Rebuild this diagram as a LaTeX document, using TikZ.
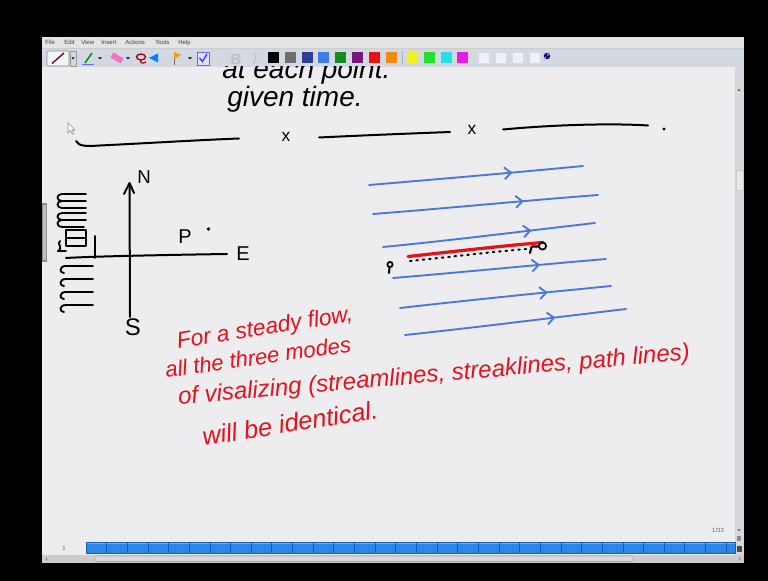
\documentclass[tikz,border=0pt]{standalone}
\usepackage{fontspec}
\setmainfont{Liberation Sans}
\usepackage{graphicx}
\usetikzlibrary{arrows.meta,decorations.markings}
\definecolor{canvasbg}{HTML}{EDEDF0}
\definecolor{chrome}{HTML}{D6D8DE}
\definecolor{menubar}{HTML}{E3E4E8}
\definecolor{toolbarbg}{HTML}{D3D9E3}
\definecolor{streamblue}{HTML}{4A78DA}
\definecolor{inkred}{HTML}{E3121B}
\definecolor{pageblue}{HTML}{2C87E8}
\definecolor{pagedark}{HTML}{1C5DAA}
\definecolor{swgray}{HTML}{6E6E6E}
\definecolor{swdblue}{HTML}{2E3E96}
\definecolor{swblue}{HTML}{3C7CEB}
\definecolor{swgreen}{HTML}{158A1E}
\definecolor{swpurple}{HTML}{7A1680}
\definecolor{swred}{HTML}{EE1111}
\definecolor{sworange}{HTML}{F08A12}
\definecolor{swyellow}{HTML}{F2F21A}
\definecolor{swlime}{HTML}{22E02A}
\definecolor{swcyan}{HTML}{22E2E8}
\definecolor{swmagenta}{HTML}{E81CE8}
\begin{document}
\begin{tikzpicture}[x=0.75pt,y=-0.75pt,
  ink/.style={line width=1.5pt,line cap=round,line join=round,draw=black},
  stream/.style={line width=1.4pt,line cap=round,draw=streamblue,postaction={decorate},
    decoration={markings,mark=at position #1 with {\arrow{Straight Barb[length=5pt,width=9pt]}}}},
  redtxt/.style={text=inkred,inner sep=0pt},
  blacktxt/.style={text=black,inner sep=0pt},
  menutxt/.style={font=\fontsize{4.5}{5}\selectfont,text=black!75,inner sep=0pt,anchor=west},
  swatch/.style={draw=black!25,line width=0.3pt}]
% ---- frame ----
\fill[black] (0,0) rectangle (768,581);
\useasboundingbox (0,0) rectangle (768,581);
\fill[chrome] (42,37) rectangle (744,563);
\fill[menubar] (42,37) rectangle (744,48);
\fill[toolbarbg] (42,48) rectangle (744,67);
\draw[black!20,line width=0.4pt] (42,48) -- (744,48);
\fill[canvasbg] (42,67) rectangle (735,555);
% menu
\foreach \x/\t in {45/File,64/Edit,81/View,101/Insert,125/Actions,155/Tools,178/Help}
  \node[menutxt] (menu-\t) at (\x,42.5) {\t};
% toolbar icons
\draw[black!45,fill=white!70!toolbarbg,rounded corners=1pt] (47,51) rectangle (69,66);
\draw[line width=1pt,red!45!black] (52,63.5) -- (64,53);
\draw[black!40] (70,51) rectangle (76,66);
\fill[black] (71.5,57.5) -- (74.5,57.5) -- (73,59.5) -- cycle;
\draw[line width=1.1pt,green!55!black] (85,63) -- (92,53);
\draw[line width=0.9pt,blue!60] (82,64.5) -- (94,64.5);
\fill[black] (98,57.5) -- (102,57.5) -- (100,59.5) -- cycle;
\fill[magenta!55!white,rotate around={-30:(117,58)}] (111,55) rectangle (123,61);
\fill[black] (126,57.5) -- (130,57.5) -- (128,59.5) -- cycle;
\draw[red!65!black,line width=1pt] (141,57) ellipse (4.5 and 3);
\draw[red!65!black,line width=0.9pt] (141,60) .. controls (139,63) and (143,64) .. (146,62);
\fill[blue!50!cyan] (149,58) -- (158,53.5) -- (158,62.5) -- cycle;
\draw[black!60,line width=0.7pt] (174,52) -- (174,65);
\fill[orange!80!yellow] (174,52) -- (181,55) -- (174,59) -- cycle;
\fill[black] (188,57.5) -- (192,57.5) -- (190,59.5) -- cycle;
\draw[blue!60,fill=blue!12] (197,52) rectangle (209,65);
\draw[blue!80,line width=1pt] (199.5,58) -- (202.5,61.5) -- (207,54);
\node[font=\bfseries\fontsize{11}{12}\selectfont,text=black!25,inner sep=0pt] (bold) at (236,59) {B};
\node[font=\itshape\fontsize{11}{12}\selectfont,text=black!25,inner sep=0pt] (ital) at (255,59) {I};
\foreach \c [count=\i from 0] in {black,swgray,swdblue,swblue,swgreen,swpurple,swred,sworange}
  \fill[\c] ({268+\i*16.8},52) rectangle ++(11,11);
\draw[black!30] (402,51) -- (402,65);
\foreach \c [count=\i from 0] in {swyellow,swlime,swcyan,swmagenta}
  \fill[\c] ({407+\i*16.8},52) rectangle ++(11,11);
\foreach \i in {0,...,3}
  \draw[black!15,fill=white!60!toolbarbg] ({478+\i*17},52) rectangle ++(11,11);
\fill[blue!60!black] (547,56) circle (3.2);
\fill[red!70] (548,54.5) circle (1.6);
\fill[orange] (545.5,57.5) circle (1.2);
% right scrollbar
\fill[chrome] (735,67) rectangle (744,555);
\fill[black!55] (737.3,91) -- (740.7,91) -- (739,88.5) -- cycle;
\draw[black!20,fill=chrome!60!white] (736,170) rectangle (743,190);
\fill[black!55] (737.3,529) -- (740.7,529) -- (739,531.5) -- cycle;
\fill[black!45] (737,536) rectangle (741,541);
\fill[black!70] (736.5,546) rectangle (741.5,552);
% left tab
\fill[black!45] (42,203) rectangle (47,262);
\fill[black!25] (43,205) rectangle (46,260);
% page strip
\fill[pageblue] (86,542) rectangle (735,553.5);
\fill[white!30!pageblue] (86,542) rectangle (735,543.5);
\foreach \k in {1,...,31} \draw[pagedark,line width=0.6pt] ({86+\k*20.65},542) -- ({86+\k*20.65},553.5);
\draw[pagedark,line width=0.6pt] (86,542) rectangle (735,553.5);
\node[font=\fontsize{4.5}{5}\selectfont,text=black!60,inner sep=0pt] (pagenum) at (64,548) {1};
\node[font=\fontsize{4.5}{5}\selectfont,text=black!60,inner sep=0pt] (pagecount) at (718,530) {1/33};
% bottom scrollbar
\fill[black!20] (42,555) rectangle (744,563);
\draw[black!35,fill=white!85!black,rounded corners=1pt] (95,556) rectangle (633,561.5);
\fill[black!50] (47,557.5) -- (47,560.5) -- (45.5,559) -- cycle;
\fill[black!50] (739,557.5) -- (739,560.5) -- (740.5,559) -- cycle;
% ---- handwriting (clipped to canvas) ----
\begin{scope}
\clip (42,67) rectangle (735,541);
\node[blacktxt,anchor=base west,font=\fontsize{21}{24}\selectfont\itshape] (l0) at (222,79) {at each point.};
\node[blacktxt,anchor=base west,font=\fontsize{21}{24}\selectfont\itshape] (l1) at (227,107) {given time.};
\end{scope}
% cursor
\draw[black!45,fill=white,line width=0.4pt] (68,123) -- (68,133) -- (70.5,130.6) -- (72.4,134.2) -- (73.8,133.5) -- (72,130) -- (75,130) -- cycle;
% blank lines with x marks
\draw[ink] (76,141) .. controls (79,146) and (84,146.5) .. (100,145.5) .. controls (150,143) and (200,140) .. (239,138.5);
\node[blacktxt,font=\fontsize{13}{15}\selectfont] (x1) at (286,137) {x};
\draw[ink] (319,137.5) .. controls (360,135.5) and (410,133.5) .. (450,132);
\node[blacktxt,font=\fontsize{13}{15}\selectfont] (x2) at (472,129.5) {x};
\draw[ink] (503,129.5) .. controls (550,125) and (610,123) .. (648,125.5);
\fill[black] (664,129) circle (1.6);
% compass
\draw[ink] (130,317) -- (129.5,184);
\draw[ink] (124,194) -- (129.5,183) -- (134,193);
\node[blacktxt,font=\fontsize{14}{16}\selectfont] (north) at (144,177) {N};
\draw[ink] (66,258) .. controls (90,256.5) and (160,255) .. (227,254);
\node[blacktxt,font=\fontsize{15}{17}\selectfont] (east) at (243,254) {E};
\node[blacktxt,font=\fontsize{18}{20}\selectfont] (south) at (133,327) {S};
\node[blacktxt,font=\fontsize{15}{17}\selectfont] (pnt) at (185,237) {P};
\fill[black] (208.5,229) circle (1.8);
% scribbles at the left
\draw[ink,line width=1.4pt] (86,194) -- (62,194) .. controls (56,194) and (56,201) .. (62,201) -- (86,201)
   (62,201) .. controls (56,201) and (56,208) .. (62,208) -- (86,208);
\draw[ink,line width=1.4pt] (86,213) -- (62,213) .. controls (56,213) and (56,220) .. (62,220) -- (86,220)
   (62,220) .. controls (56,220) and (56,227) .. (62,227) -- (84,227);
\draw[ink,line width=1.4pt] (66,230) rectangle (86,246);
\draw[ink,line width=1.4pt] (66,238) -- (86,238);
\draw[ink,line width=1.4pt] (60,241) .. controls (56,244) and (64,247) .. (58,251) -- (66,251);
\draw[ink,line width=1.4pt] (95,236) -- (95,258);
\foreach \yy in {266,279,292,305}
  \draw[ink,line width=1.4pt] (93,\yy) -- (66,\yy) .. controls (59,\yy) and (59,\yy+7) .. (64,\yy+7);
% streamlines
\draw[stream=0.67] (369,185) .. controls (440,179) and (510,173) .. (583,166);
\draw[stream=0.67] (373,214) .. controls (450,208) and (520,201) .. (598,195);
\draw[stream=0.70] (383,247) .. controls (455,240) and (525,231) .. (595,223);
\draw[stream=0.69] (393,278) .. controls (465,272) and (535,265) .. (606,259);
\draw[stream=0.70] (400,308) .. controls (470,300) and (540,293) .. (611,286);
\draw[stream=0.68] (405,335) .. controls (480,327) and (550,318) .. (626,309);
% red streakline and dotted pathline
\draw[inkred,line width=2.4pt,line cap=round] (408,256.5) .. controls (450,252) and (500,246) .. (543,242.5);
\draw[black,line width=1.5pt,dash pattern=on 1.2pt off 3.6pt,line cap=round] (410,261) .. controls (450,257) and (490,252) .. (527,249);
\draw[black,line width=1.3pt] (390,264.5) circle (2.6);
\draw[black,line width=1.5pt,line cap=round] (389.5,267) -- (389,273);
\draw[black,line width=1.3pt] (542.5,246) circle (3.6);
\draw[black,line width=1.6pt,line cap=round] (532,246.5) -- (538.5,246.5) (531.5,247) -- (530,253);
% red text
\node[redtxt,rotate=9,font=\fontsize{17}{20}\selectfont\itshape] (r1) at (265,329) {For a steady flow,};
\node[redtxt,rotate=8,font=\fontsize{16.5}{19}\selectfont\itshape] (r2) at (258,357) {all the three modes};
\node[redtxt,rotate=5,font=\fontsize{18}{21}\selectfont\itshape] (r3) at (434,376) {of visalizing (streamlines, streaklines, path lines)};
\node[redtxt,rotate=9,font=\fontsize{19}{22}\selectfont\itshape] (r4) at (290,423) {will be identical.};
\end{tikzpicture}
\end{document}
